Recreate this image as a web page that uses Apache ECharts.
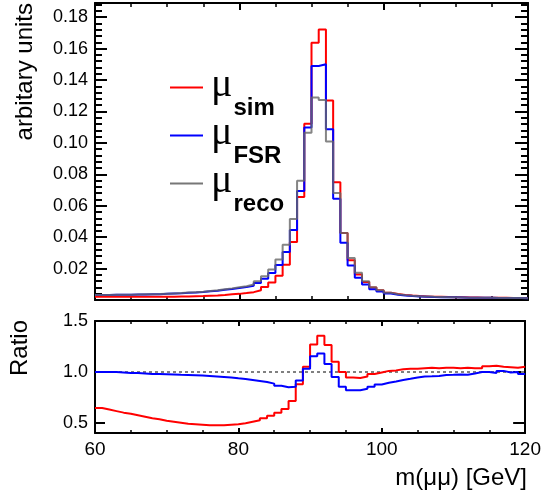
<!DOCTYPE html>
<html>
<head>
<meta charset="utf-8">
<script src="https://cdn.jsdelivr.net/npm/echarts@6/dist/echarts.min.js"></script>
<style>
  html, body { margin: 0; padding: 0; background: #fff; }
  #chart { width: 544px; height: 499px; }
</style>
</head>
<body>
<div id="chart"></div>
<script>
// binning of m(mumu): 1 GeV bins from 60 to 120
const binStart = 60;
const binWidth = 1;

// histograms (arbitrary units), one value per bin, 60..119
const recoHist = [
  0.0032, 0.0032, 0.0033, 0.0033, 0.0034, 0.0035, 0.0036, 0.0037, 0.0038, 0.0040,
  0.0042, 0.0044, 0.0047, 0.0050, 0.0053, 0.0057, 0.0062, 0.0068, 0.0074, 0.0081,
  0.0088, 0.0098, 0.0119, 0.0151, 0.0194, 0.0257, 0.0352, 0.0516, 0.0759, 0.1065,
  0.1288, 0.1273, 0.1008, 0.0681, 0.0427, 0.0268, 0.0173, 0.0119, 0.0081, 0.0062,
  0.0046, 0.0037, 0.0031, 0.0027, 0.0024, 0.0022, 0.0020, 0.0019, 0.0018, 0.0017,
  0.0016, 0.0015, 0.0015, 0.0014, 0.0014, 0.0013, 0.0013, 0.0012, 0.0012, 0.0011
];
const fsrHist = [
  0.0032, 0.0032, 0.0033, 0.0033, 0.0034, 0.0035, 0.0035, 0.0036, 0.0037, 0.0039,
  0.0041, 0.0043, 0.0046, 0.0048, 0.0051, 0.0055, 0.0059, 0.0065, 0.0070, 0.0076,
  0.0082, 0.0090, 0.0108, 0.0136, 0.0172, 0.0222, 0.0305, 0.0445, 0.0694, 0.1097,
  0.1489, 0.1500, 0.1087, 0.0645, 0.0364, 0.0220, 0.0142, 0.0099, 0.0069, 0.0054,
  0.0041, 0.0034, 0.0029, 0.0025, 0.0023, 0.0021, 0.0019, 0.0018, 0.0017, 0.0017,
  0.0016, 0.0015, 0.0015, 0.0014, 0.0014, 0.0013, 0.0013, 0.0012, 0.0012, 0.0011
];
const simHist = [
  0.0021, 0.0020, 0.0020, 0.0020, 0.0020, 0.0020, 0.0020, 0.0020, 0.0020, 0.0021,
  0.0021, 0.0022, 0.0023, 0.0024, 0.0025, 0.0027, 0.0029, 0.0032, 0.0036, 0.0039,
  0.0044, 0.0050, 0.0062, 0.0082, 0.0111, 0.0154, 0.0224, 0.0369, 0.0655, 0.1121,
  0.1637, 0.1722, 0.1269, 0.0750, 0.0427, 0.0253, 0.0163, 0.0114, 0.0079, 0.0062,
  0.0046, 0.0038, 0.0032, 0.0028, 0.0025, 0.0023, 0.0021, 0.0020, 0.0019, 0.0018,
  0.0017, 0.0016, 0.0016, 0.0014, 0.0015, 0.0014, 0.0014, 0.0013, 0.0012, 0.0012
];

// ratios to reco
const simRatio = [
  0.645, 0.63, 0.615, 0.60, 0.59, 0.575, 0.56, 0.545, 0.535, 0.52,
  0.51, 0.50, 0.49, 0.485, 0.48, 0.475, 0.475, 0.475, 0.48, 0.485,
  0.495, 0.51, 0.525, 0.545, 0.57, 0.60, 0.635, 0.715, 0.88, 1.05,
  1.27, 1.355, 1.265, 1.10, 1.0, 0.945, 0.94, 0.955, 0.98, 0.995,
  1.01, 1.015, 1.025, 1.03, 1.03, 1.035, 1.04, 1.035, 1.04, 1.04,
  1.035, 1.04, 1.035, 1.035, 1.055, 1.06, 1.05, 1.045, 1.04, 1.05
];
const fsrRatio = [
  1.0, 1.0, 1.0, 0.995, 0.99, 0.99, 0.985, 0.98, 0.98, 0.978,
  0.975, 0.972, 0.97, 0.968, 0.965, 0.96, 0.955, 0.95, 0.945, 0.937,
  0.93, 0.92, 0.91, 0.90, 0.885, 0.865, 0.85, 0.855, 0.915, 1.03,
  1.155, 1.18, 1.078, 0.95, 0.854, 0.82, 0.82, 0.834, 0.854, 0.877,
  0.893, 0.906, 0.92, 0.932, 0.945, 0.955, 0.957, 0.96, 0.97, 0.972,
  0.975, 0.972, 0.985, 1.0, 1.0, 0.99, 1.01, 0.995, 1.0, 0.98
];

// axis ticks / labels
const massTicks = [60, 80, 100, 120];
const histTicks = [0.02, 0.04, 0.06, 0.08, 0.10, 0.12, 0.14, 0.16, 0.18];
const ratioTicks = [0.5, 1.0, 1.5];
const legendNames = ['sim', 'FSR', 'reco'];

const FONT = 'Liberation Sans';

// histogram -> step points (low edges + closing edge)
function toSteps(vals) {
  let pts = vals.map((v, i) => [binStart + i * binWidth, v]);
  pts.push([binStart + vals.length * binWidth, vals[vals.length - 1]]);
  return pts;
}

// minor ticks every 0.004 between the labelled ones
let histMinor = [];
for (let i = 1; i <= 47; i++) {
  if (i % 5 !== 0) histMinor.push(+(i * 0.004).toFixed(3));
}

function massAxis(grid, pos, labels, major, minor) {
  return {
    type: 'value', gridIndex: grid, position: pos,
    min: massTicks[0], max: massTicks[massTicks.length - 1], interval: 20,
    axisLine: { show: true, onZero: false, lineStyle: { color: '#000', width: 2 } },
    axisTick: { show: true, inside: true, length: major, lineStyle: { color: '#000', width: 2 } },
    minorTick: { show: true, splitNumber: 4, length: minor, lineStyle: { color: '#000', width: 1.5 } },
    axisLabel: { show: labels, margin: 7, color: '#000', fontFamily: FONT, fontSize: 19 },
    splitLine: { show: false }
  };
}

function valAxis(grid, pos, min, max, ticks, len, labels, line) {
  return {
    type: 'value', gridIndex: grid, position: pos, min: min, max: max,
    axisLine: { show: line, onZero: false, lineStyle: { color: '#000', width: 2 } },
    axisTick: { show: true, inside: true, length: len, customValues: ticks,
                lineStyle: { color: '#000', width: 2 } },
    axisLabel: { show: labels, customValues: ticks, margin: 7, color: '#000',
                 fontFamily: FONT, fontSize: 18,
                 formatter: v => (grid === 0 ? v.toFixed(2) : v.toFixed(1)) },
    splitLine: { show: false }
  };
}

const histMax = 0.189;

let myChart = echarts.init(document.getElementById('chart'), null, { renderer: 'canvas' });

let option = {
  animation: false,
  backgroundColor: '#fff',
  grid: [
    { left: 95, right: 16, top: 3, height: 297 },
    { left: 95, right: 16, top: 321, height: 112 }
  ],
  xAxis: [
    massAxis(0, 'bottom', false, 7, 4),
    massAxis(0, 'top', false, 7, 4),
    massAxis(1, 'bottom', true, 5, 3),
    massAxis(1, 'top', false, 5, 3)
  ],
  yAxis: [
    valAxis(0, 'left', 0, histMax, histTicks, 12, true, true),
    valAxis(0, 'left', 0, histMax, histMinor, 7, false, false),
    valAxis(0, 'right', 0, histMax, histTicks, 13, false, true),
    valAxis(0, 'right', 0, histMax, histMinor, 7, false, false),
    valAxis(1, 'left', 0.4, 1.5, ratioTicks, 10, true, true),
    valAxis(1, 'right', 0.4, 1.5, ratioTicks, 12, false, true)
  ],
  legend: {
    left: 170, top: 55, padding: 0, orient: 'vertical',
    itemWidth: 33, itemHeight: 2, itemGap: -17, icon: 'rect',
    data: legendNames,
    formatter: name => '{mu|μ}{sub|' + name + '}',
    textStyle: {
      color: '#000',
      rich: {
        mu: { fontFamily: 'Liberation Serif', fontSize: 40, lineHeight: 44, verticalAlign: 'top',
              padding: [0, 1, 0, 3], color: '#000' },
        sub: { fontFamily: FONT, fontWeight: 'bold', fontSize: 24, lineHeight: 10,
               padding: [41, 0, 0, 0], color: '#000' }
      }
    }
  },
  graphic: [
    { type: 'text', x: 25, y: 3, rotation: Math.PI / 2,
      style: { text: 'arbitary units', fontFamily: FONT, fontSize: 24, fill: '#000',
               align: 'right', verticalAlign: 'middle' } },
    { type: 'text', x: 20, y: 320, rotation: Math.PI / 2,
      style: { text: 'Ratio', fontFamily: FONT, fontSize: 24, fill: '#000',
               align: 'right', verticalAlign: 'middle' } },
    { type: 'text', x: 527, y: 478,
      style: { text: 'm(μμ) [GeV]', fontFamily: FONT, fontSize: 24, fill: '#000',
               align: 'right', verticalAlign: 'middle' } }
  ],
  series: [
    {
      name: 'sim', type: 'line', xAxisIndex: 0, yAxisIndex: 0, step: 'end',
      symbol: 'none', data: toSteps(simHist), color: '#ff0000',
      lineStyle: { color: '#ff0000', width: 2 }
    },
    {
      name: 'FSR', type: 'line', xAxisIndex: 0, yAxisIndex: 0, step: 'end',
      symbol: 'none', data: toSteps(fsrHist), color: '#0000ff',
      lineStyle: { color: '#0000ff', width: 2 }
    },
    {
      name: 'reco', type: 'line', xAxisIndex: 0, yAxisIndex: 0, step: 'end',
      symbol: 'none', data: toSteps(recoHist), color: '#777777',
      lineStyle: { color: '#666666', width: 2, opacity: 0.8 }
    },
    {
      name: 'one', type: 'line', xAxisIndex: 2, yAxisIndex: 4, silent: true,
      symbol: 'none', data: [[massTicks[0], 1], [massTicks[3], 1]],
      lineStyle: { color: '#808080', width: 2, type: [3, 3] }
    },
    {
      name: 'sim/reco', type: 'line', xAxisIndex: 2, yAxisIndex: 4, step: 'end',
      symbol: 'none', data: toSteps(simRatio),
      lineStyle: { color: '#ff0000', width: 2 }
    },
    {
      name: 'FSR/reco', type: 'line', xAxisIndex: 2, yAxisIndex: 4, step: 'end',
      symbol: 'none', data: toSteps(fsrRatio),
      lineStyle: { color: '#0000ff', width: 2 }
    }
  ]
};

myChart.setOption(option);
</script>
</body>
</html>
